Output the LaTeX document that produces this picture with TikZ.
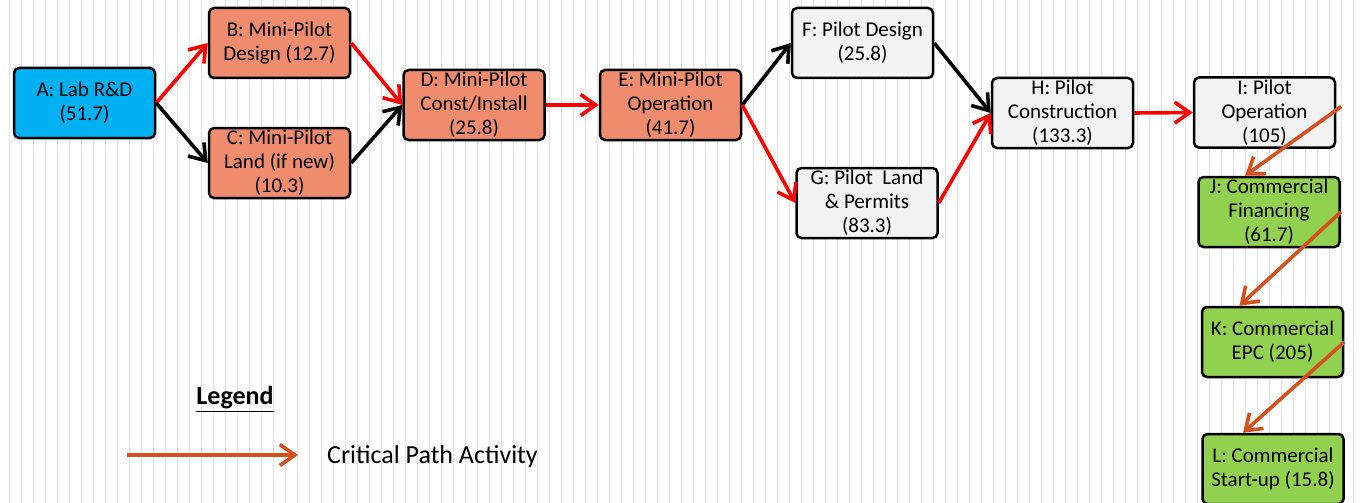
\documentclass[tikz,border=0pt]{standalone}
\usepackage{fontspec}
\setmainfont{Carlito}
\usetikzlibrary{arrows.meta}

\definecolor{labblue}{RGB}{0,176,240}
\definecolor{minisalmon}{RGB}{240,140,110}
\definecolor{pilotgray}{RGB}{242,242,242}
\definecolor{commgreen}{RGB}{146,208,80}
\definecolor{critorange}{RGB}{214,80,30}
\definecolor{gridgray}{RGB}{226,226,226}

\tikzset{
  task/.style={draw=black, line width=2.5pt, rounded corners=5pt,
    minimum width=141pt, minimum height=70pt, inner sep=0pt, align=center,
    font=\fontsize{21}{24}\selectfont},
  labtask/.style={task, fill=labblue},
  minitask/.style={task, fill=minisalmon},
  pilottask/.style={task, fill=pilotgray},
  commtask/.style={task, fill=commgreen},
  flow/.style={line width=3.6pt, -{Straight Barb[length=15pt,width=21pt,line width=3.6pt]}},
  crit/.style={flow, red},
  late/.style={flow, critorange},
}

\begin{document}
\begin{tikzpicture}[x=1pt, y=-1pt]
  \useasboundingbox (0,0) rectangle (1360,503);
  \fill[white] (0,0) rectangle (1360,503);
  \foreach \k in {0,...,112}
    \draw[gridgray, line width=1.3pt] (9.3+12*\k,0) -- (9.3+12*\k,503);

  \node[labtask]   (A) at (84.5,103)   {A: Lab R\&D\\(51.7)};
  \node[minitask]  (B) at (279.5,43)   {B: Mini-Pilot\\Design (12.7)};
  \node[minitask]  (C) at (279.5,163)  {C: Mini-Pilot\\Land (if new)\\(10.3)};
  \node[minitask]  (D) at (474,105)    {D: Mini-Pilot\\Const/Install\\(25.8)};
  \node[minitask]  (E) at (670.5,105)  {E: Mini-Pilot\\Operation\\(41.7)};
  \node[pilottask] (F) at (862.5,43)   {F: Pilot Design\\(25.8)};
  \node[pilottask] (G) at (867,203)    {G: Pilot\ \ Land\\\& Permits\\(83.3)};
  \node[pilottask] (H) at (1062.5,113) {H: Pilot\\Construction\\(133.3)};
  \node[pilottask] (I) at (1264.5,112.5) {I: Pilot\\Operation\\(105)};
  \node[commtask]  (J) at (1269,212)   {J: Commercial\\Financing\\(61.7)};
  \node[commtask]  (K) at (1272.5,342) {K: Commercial\\EPC (205)};
  \node[commtask]  (L) at (1273,469)   {L: Commercial\\Start-up (15.8)};

  \draw[crit] (A.east) -- (B.west);
  \draw[flow] (A.east) -- (C.west);
  \draw[crit] (B.east) -- (D.west);
  \draw[flow] (C.east) -- (D.west);
  \draw[crit] (D.east) -- (E.west);
  \draw[flow] (E.east) -- (F.west);
  \draw[crit] (E.east) -- (G.west);
  \draw[flow] (F.east) -- (H.west);
  \draw[crit] (G.east) -- (H.west);
  \draw[crit] (H.east) -- (I.west);
  \draw[late] ([shift={(5,-6)}]I.east) -- ([xshift=-24pt]J.north);
  \draw[late] (J.east) -- ([xshift=-33pt]K.north);
  \draw[late] (K.east) -- ([xshift=-30pt]L.north);

  % legend
  \node[font=\fontsize{26}{30}\selectfont\bfseries] (leg) at (235,399) {\underline{Legend}};
  \coordinate (lg1) at (127,455);
  \coordinate (lg2) at (298,455);
  \draw[late] (lg1) -- (lg2);
  \node[anchor=west, inner sep=0pt, font=\fontsize{26}{30}\selectfont] (legtxt) at (327,457) {Critical Path Activity};
\end{tikzpicture}
\end{document}
